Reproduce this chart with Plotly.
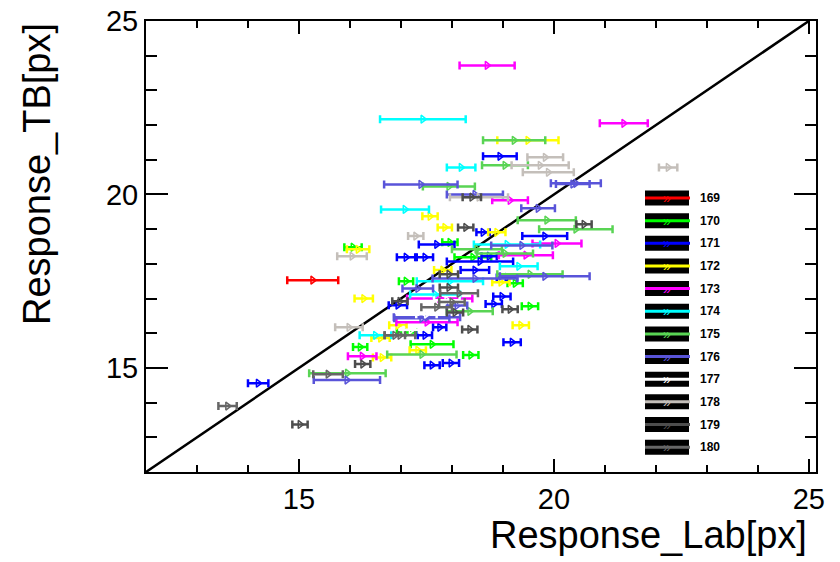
import plotly.graph_objects as go

# ---------------- data ----------------
runs = ["169", "170", "171", "172", "173", "174", "175", "176", "177", "178", "179", "180"]
colors = ["#ff0000", "#00ff00", "#0000ff", "#ffff00", "#ff00ff", "#00ffff",
          "#59d454", "#5954d9", "#ffffff", "#c4bfba", "#4d4d4d", "#666666"]

r169_x = [15.27]
r169_ex = [0.50]
r169_y = [17.53]

r170_x = [17.96, 16.06, 18.41, 17.10, 19.24, 19.53, 17.12, 17.61, 16.20, 18.37]
r170_ex = [0.15, 0.17, 0.36, 0.14, 0.15, 0.16, 0.20, 0.42, 0.14, 0.15]
r170_y = [18.62, 18.48, 18.19, 17.50, 17.44, 16.78, 16.02, 15.68, 15.60, 15.37]

r171_x = [18.94, 18.61, 17.70, 17.10, 17.47, 18.55, 18.73, 19.82, 18.45, 19.08,
          18.98, 18.82, 16.94, 17.76, 17.47, 17.61, 17.98, 14.20, 19.18]
r171_ex = [0.33, 0.13, 0.35, 0.18, 0.16, 0.65, 0.15, 0.44, 0.28, 0.20,
           0.17, 0.16, 0.18, 0.13, 0.14, 0.15, 0.16, 0.20, 0.17]
r171_y = [21.10, 18.91, 18.56, 18.19, 18.19, 18.07, 18.22, 18.80, 17.82, 17.61,
          17.06, 16.84, 16.81, 16.17, 15.94, 15.08, 15.14, 14.56, 15.74]

r172_x = [19.49, 17.57, 17.86, 18.88, 16.16, 17.82, 18.96, 16.27, 16.94, 17.33,
          16.63, 19.35, 16.60]
r172_ex = [0.60, 0.15, 0.14, 0.17, 0.22, 0.17, 0.17, 0.18, 0.17, 0.16,
           0.18, 0.16, 0.18]
r172_y = [21.56, 19.37, 19.05, 18.91, 18.42, 17.82, 17.47, 17.00, 16.23, 15.51,
          15.30, 16.23, 15.86]

r173_x = [18.69, 21.37, 19.14, 20.06, 19.45, 17.76, 17.51, 16.24]
r173_ex = [0.54, 0.47, 0.35, 0.48, 0.53, 0.64, 0.60, 0.28]
r173_y = [23.72, 22.05, 19.83, 18.59, 18.25, 17.00, 16.32, 15.34]

r174_x = [17.43, 18.18, 17.08, 19.08, 19.31, 17.96, 17.67, 16.50]
r174_ex = [0.84, 0.28, 0.47, 0.65, 0.37, 0.65, 0.49, 0.31]
r174_y = [22.17, 20.78, 19.57, 18.56, 17.93, 17.50, 17.12, 15.94]

r175_x = [19.22, 19.04, 17.94, 19.86, 20.43, 18.49, 19.04, 19.53, 18.35, 17.41, 15.95]
r175_ex = [0.61, 0.45, 0.51, 0.57, 0.72, 0.49, 0.55, 0.64, 0.45, 0.68, 0.75]
r175_y = [21.56, 20.84, 20.23, 19.26, 19.00, 18.42, 18.30, 17.70, 16.63, 15.39, 14.85]

r176_x = [20.43, 20.37, 19.69, 17.39, 18.45, 19.37, 19.82, 18.45, 17.33, 18.10,
          17.51, 17.41, 15.94]
r176_ex = [0.49, 0.33, 0.33, 0.72, 0.55, 0.60, 0.88, 0.83, 0.30, 0.20,
           0.65, 0.54, 0.65]
r176_y = [20.32, 20.30, 19.60, 20.29, 20.00, 18.53, 17.64, 17.58, 17.29, 16.80,
          16.46, 16.43, 14.65]

r177_x = [17.50, 17.90, 18.30, 17.20]
r177_ex = [0.20, 0.25, 0.20, 0.15]
r177_y = [16.55, 16.95, 17.30, 16.10]

r178_x = [19.73, 19.83, 19.89, 22.24, 18.53, 17.29, 16.04, 15.98]
r178_ex = [0.56, 0.35, 0.50, 0.18, 0.57, 0.15, 0.29, 0.27]
r178_y = [20.84, 21.07, 20.64, 20.78, 19.92, 18.80, 18.22, 16.17]

r179_x = [18.39, 18.27, 20.59, 17.94, 17.94, 19.14, 16.98, 18.06, 18.35, 16.25, 15.02]
r179_ex = [0.18, 0.15, 0.15, 0.18, 0.18, 0.15, 0.15, 0.16, 0.15, 0.15, 0.15]
r179_y = [19.92, 19.05, 19.14, 17.70, 17.32, 16.69, 16.92, 16.60, 16.11, 15.11, 13.37]

r180_x = [13.60, 16.88, 18.14, 15.57, 16.98, 17.70, 18.00]
r180_ex = [0.18, 0.20, 0.37, 0.29, 0.30, 0.30, 0.25]
r180_y = [13.90, 15.94, 17.15, 14.82, 15.94, 16.75, 16.90]

diag = [12, 25]          # y = x reference line end points
x_range = [12, 25.14]
y_range = [12, 25]

series = [
    (r169_x, r169_ex, r169_y), (r170_x, r170_ex, r170_y), (r171_x, r171_ex, r171_y),
    (r172_x, r172_ex, r172_y), (r173_x, r173_ex, r173_y), (r174_x, r174_ex, r174_y),
    (r175_x, r175_ex, r175_y), (r176_x, r176_ex, r176_y), (r177_x, r177_ex, r177_y),
    (r178_x, r178_ex, r178_y), (r179_x, r179_ex, r179_y), (r180_x, r180_ex, r180_y),
]

# ---------------- figure ----------------
FONT = "Liberation Sans, Arial, Helvetica, sans-serif"
W, H = 840, 562
ML, MR, MT, MB = 146, 24, 21, 90
PW, PH = W - ML - MR, H - MT - MB

fig = go.Figure()

fig.add_trace(go.Scatter(x=diag, y=diag, mode="lines",
                         line=dict(color="black", width=2.5),
                         hoverinfo="skip", showlegend=False))

for name, col, (xs, exs, ys) in zip(runs, colors, series):
    fig.add_trace(go.Scatter(
        x=xs, y=ys, mode="markers", name=name,
        error_x=dict(type="data", array=exs, visible=True, color=col,
                     thickness=2.5, width=4),
        marker=dict(symbol="triangle-right-open", size=7, color=col,
                    line=dict(color=col, width=1.5)),
        showlegend=False))

def px_x(p):
    return (p - ML) / PW

def px_y(p):
    return (H - MB - p) / PH

shapes = []
annotations = []
for i, (name, col) in enumerate(zip(runs, colors)):
    c = 198 + 22.65 * i
    shapes.append(dict(type="rect", xref="paper", yref="paper",
                       x0=px_x(645), x1=px_x(689), y0=px_y(c + 7.5), y1=px_y(c - 7.5),
                       fillcolor="black", line=dict(width=0)))
    shapes.append(dict(type="line", xref="paper", yref="paper",
                       x0=px_x(645), x1=px_x(690), y0=px_y(c), y1=px_y(c),
                       line=dict(color=col, width=3)))
    annotations.append(dict(xref="paper", yref="paper", x=px_x(667), y=px_y(c),
                            text="»", showarrow=False, xanchor="center", yanchor="middle",
                            font=dict(family=FONT, size=14, color=col)))
    annotations.append(dict(xref="paper", yref="paper", x=px_x(698), y=px_y(c),
                            text="<b>%s</b>" % name, showarrow=False,
                            xanchor="left", yanchor="middle",
                            font=dict(family=FONT, size=12, color="black")))

annotations.append(dict(xref="paper", yref="paper", x=px_x(809), y=px_y(535),
                        text="Response_Lab[px]", showarrow=False,
                        xanchor="right", yanchor="middle",
                        font=dict(family=FONT, size=38, color="black")))
annotations.append(dict(xref="paper", yref="paper", x=px_x(37), y=1.0,
                        text="Response_TB[px]", showarrow=False, textangle=-90,
                        xanchor="center", yanchor="top",
                        font=dict(family=FONT, size=38, color="black")))

axis_common = dict(showline=True, linecolor="black", linewidth=2, mirror="ticks",
                   ticks="inside", tickwidth=2, tickcolor="black", automargin=False,
                   showgrid=False, zeroline=False, tick0=0, dtick=5,
                   tickfont=dict(family=FONT, size=29, color="black"))

fig.update_layout(
    width=W, height=H,
    margin=dict(l=ML, r=MR, t=MT, b=MB),
    paper_bgcolor="white", plot_bgcolor="white",
    showlegend=False,
    xaxis=dict(range=x_range, ticklen=13,
               minor=dict(dtick=1, tick0=0, ticks="inside", ticklen=7, tickwidth=1.5,
                          tickcolor="black", showgrid=False),
               **axis_common),
    yaxis=dict(range=y_range, ticklen=22,
               minor=dict(dtick=1, tick0=0, ticks="inside", ticklen=11, tickwidth=1.5,
                          tickcolor="black", showgrid=False),
               **axis_common),
    shapes=shapes,
    annotations=annotations,
)

fig.write_html("out.html")
